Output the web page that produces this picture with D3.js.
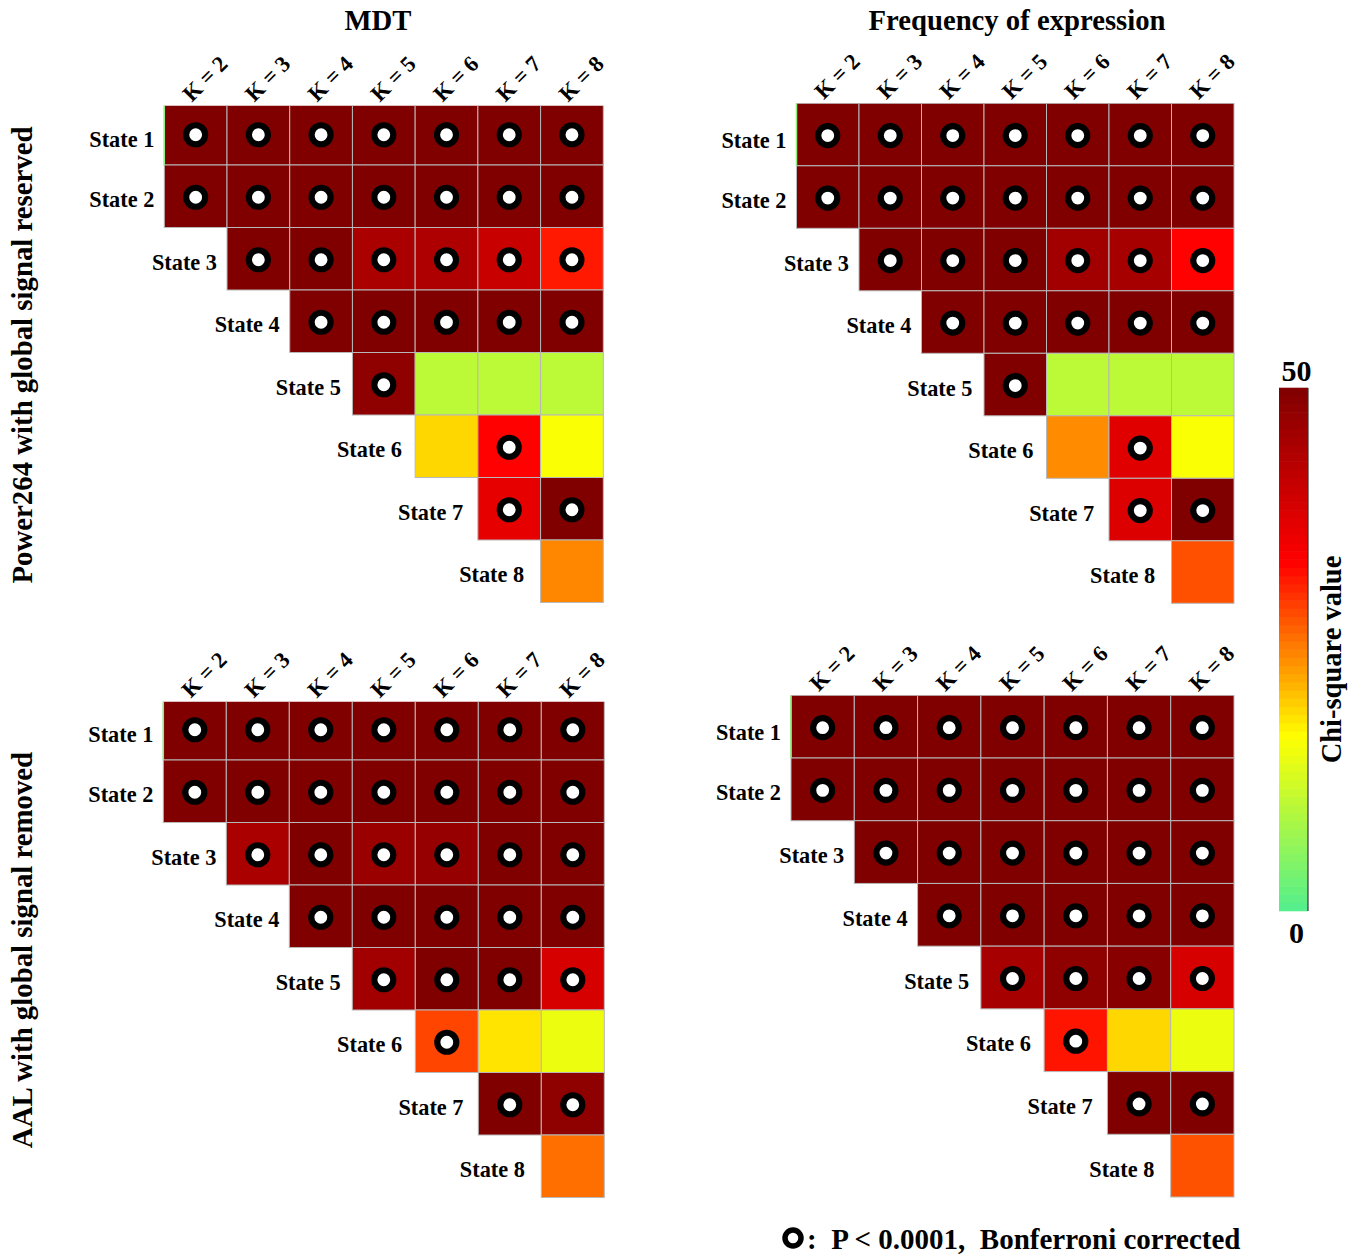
<!DOCTYPE html>
<html>
<head>
<meta charset="utf-8">
<script src="https://cdn.jsdelivr.net/npm/d3@7"></script>
<style>
  html, body { margin: 0; padding: 0; background: #fff; }
  svg text { font-family: "Times New Roman", "Liberation Serif", "DejaVu Serif", serif; font-weight: bold; fill: #000; }
</style>
</head>
<body>
<svg id="chart" width="1359" height="1255"></svg>
<script>
// Column and row categories
const kLabels = ["K = 2", "K = 3", "K = 4", "K = 5", "K = 6", "K = 7", "K = 8"];
const stateLabels = ["State 1", "State 2", "State 3", "State 4", "State 5", "State 6", "State 7", "State 8"];
const columnTitles = ["MDT", "Frequency of expression"];
const rowTitles = ["Power264 with global signal reserved", "AAL with global signal removed"];

// Chi-square values per state (rows) and K (columns); null = state absent for that K
const mdtPower264 = [
  [50, 50, 50, 50, 50, 50, 50],
  [50, 50, 50, 50, 50, 50, 50],
  [null, 50, 50, 44.5, 44, 40.5, 31.7],
  [null, null, 50, 50, 50, 50, 50],
  [null, null, null, 48, 10.2, 10.2, 10.2],
  [null, null, null, null, 19.3, 33.3, 16.2],
  [null, null, null, null, null, 36.6, 50],
  [null, null, null, null, null, null, 24.5]
];
const freqPower264 = [
  [50, 50, 50, 50, 50, 50, 50],
  [50, 50, 50, 50, 50, 50, 50],
  [null, 50, 50, 50, 45.6, 45, 33.3],
  [null, null, 50, 50, 50, 50, 50],
  [null, null, null, 50, 10.2, 10.2, 10.2],
  [null, null, null, null, 24.2, 37.3, 16.3],
  [null, null, null, null, null, 37.9, 50],
  [null, null, null, null, null, null, 28.1]
];
const mdtAAL = [
  [50, 50, 50, 50, 50, 50, 50],
  [50, 50, 50, 50, 50, 50, 50],
  [null, 44.5, 50, 46.4, 47, 50, 50],
  [null, null, 50, 50, 50, 50, 50],
  [null, null, null, 45.6, 50, 50, 38.6],
  [null, null, null, null, 28.8, 18.4, 14.8],
  [null, null, null, null, null, 50, 48],
  [null, null, null, null, null, null, 26.1]
];
const freqAAL = [
  [50, 50, 50, 50, 50, 50, 50],
  [50, 50, 50, 50, 50, 50, 50],
  [null, 50, 50, 50, 50, 50, 50],
  [null, null, 50, 50, 50, 50, 50],
  [null, null, null, 45, 48, 49, 38.6],
  [null, null, null, null, 32, 19.3, 14.8],
  [null, null, null, null, null, 50, 50],
  [null, null, null, null, null, null, 28]
];

// Significance flags (1 = P < 0.0001, Bonferroni corrected)
const sigPower264 = [
  [1, 1, 1, 1, 1, 1, 1],
  [1, 1, 1, 1, 1, 1, 1],
  [0, 1, 1, 1, 1, 1, 1],
  [0, 0, 1, 1, 1, 1, 1],
  [0, 0, 0, 1, 0, 0, 0],
  [0, 0, 0, 0, 0, 1, 0],
  [0, 0, 0, 0, 0, 1, 1],
  [0, 0, 0, 0, 0, 0, 0]
];
const sigAAL = [
  [1, 1, 1, 1, 1, 1, 1],
  [1, 1, 1, 1, 1, 1, 1],
  [0, 1, 1, 1, 1, 1, 1],
  [0, 0, 1, 1, 1, 1, 1],
  [0, 0, 0, 1, 1, 1, 1],
  [0, 0, 0, 0, 1, 0, 0],
  [0, 0, 0, 0, 0, 1, 1],
  [0, 0, 0, 0, 0, 0, 0]
];

// Colorbar range and tick labels
const colorDomain = [0, 50];
const colorTicks = ["0", "50"];

const color = d3.scaleLinear()
  .domain([0, 50 / 3, 100 / 3, 50])
  .range(["#52ef8e", "#ffff00", "#ff0000", "#800000"])
  .clamp(true);

const svg = d3.select("#chart");
svg.append("rect").attr("width", 1359).attr("height", 1255).attr("fill", "#fff");

const panels = [
  { values: mdtPower264, sig: sigPower264, x: [164.3, 603.3], y: [102.5, 602.5], clipTop: 105.7 },
  { values: freqPower264, sig: sigPower264, x: [796.5, 1234], y: [103.3, 603.3], clipTop: 103.3 },
  { values: mdtAAL, sig: sigAAL, x: [163.3, 604.3], y: [697.5, 1197.5], clipTop: 701.7 },
  { values: freqAAL, sig: sigAAL, x: [791, 1234], y: [695.3, 1197], clipTop: 695.3 }
];

const defs = svg.append("defs");

panels.forEach((p, pi) => {
  const xs = d3.scaleBand().domain(kLabels).range(p.x);
  const ys = d3.scaleBand().domain(stateLabels).range(p.y);
  const g = svg.append("g");

  defs.append("clipPath").attr("id", "clip" + pi)
    .append("rect")
    .attr("x", p.x[0] - 2).attr("y", p.clipTop)
    .attr("width", p.x[1] - p.x[0] + 4).attr("height", p.y[1] - p.clipTop + 2);

  const cells = [];
  p.values.forEach((row, ri) => row.forEach((v, ci) => {
    if (v !== null) cells.push({ state: stateLabels[ri], k: kLabels[ci], v, sig: p.sig[ri][ci] });
  }));

  const body = g.append("g").attr("clip-path", `url(#clip${pi})`);
  body.selectAll("rect.cell").data(cells).join("rect")
    .attr("class", "cell")
    .attr("x", d => xs(d.k)).attr("y", d => ys(d.state))
    .attr("width", xs.bandwidth()).attr("height", ys.bandwidth())
    .attr("fill", d => color(d.v))
    .attr("stroke", "#b8b8b8").attr("stroke-width", 1);

  // thin light-green edge on the first row's left side
  body.append("line")
    .attr("x1", xs(kLabels[0])).attr("x2", xs(kLabels[0]))
    .attr("y1", ys(stateLabels[0])).attr("y2", ys(stateLabels[0]) + ys.bandwidth())
    .attr("stroke", "#8cf07a").attr("stroke-width", 1.5);

  body.selectAll("circle.sig").data(cells.filter(d => d.sig)).join("circle")
    .attr("class", "sig")
    .attr("cx", d => xs(d.k) + xs.bandwidth() / 2)
    .attr("cy", d => ys(d.state) + ys.bandwidth() / 2 + 1)
    .attr("r", 9.5)
    .attr("fill", "#fff").attr("stroke", "#000").attr("stroke-width", 6.2);

  // rotated K labels above the columns
  g.selectAll("text.k").data(kLabels).join("text")
    .attr("class", "k")
    .attr("transform", d => `translate(${xs(d) + xs.bandwidth() / 2 - 4},${p.clipTop - 3}) rotate(-45)`)
    .attr("font-size", 22.5)
    .text(d => d);

  // State labels left of each row's first cell; lower rows sit a little further out
  g.selectAll("text.s").data(stateLabels).join("text")
    .attr("class", "s")
    .attr("x", (d, i) => xs(kLabels[Math.max(0, i - 1)]) - 10 - Math.max(0, i - 3) * 1.6)
    .attr("y", (d, i) => ys(d) + ys.bandwidth() / 2 + 11 + (i === 0 ? 2 : 0))
    .attr("text-anchor", "end")
    .attr("font-size", 22.3)
    .text(d => d);
});

// Column titles
svg.selectAll("text.ctitle").data(columnTitles).join("text")
  .attr("x", (d, i) => [378, 1017][i]).attr("y", 30)
  .attr("text-anchor", "middle").attr("font-size", 28.7)
  .text(d => d);

// Row titles
svg.selectAll("text.rtitle").data(rowTitles).join("text")
  .attr("transform", (d, i) => `translate(32,${[355, 950][i]}) rotate(-90)`)
  .attr("text-anchor", "middle").attr("font-size", 28.8)
  .text(d => d);

// Colorbar
const cbX = 1279, cbW = 29, cbTop = 388, cbBottom = 911;
const cbScale = d3.scaleLinear().domain(colorDomain).range([cbBottom, cbTop]);
const steps = d3.range(64).map(i => colorDomain[0] + (i + 0.5) * (colorDomain[1] - colorDomain[0]) / 64);
const stepH = (cbBottom - cbTop) / 64;
svg.append("g").selectAll("rect").data(steps).join("rect")
  .attr("x", cbX).attr("width", cbW)
  .attr("y", d => cbScale(d) - stepH / 2 - 0.3).attr("height", stepH + 0.6)
  .attr("fill", d => color(d));
svg.append("line")
  .attr("x1", cbX + cbW).attr("x2", cbX + cbW)
  .attr("y1", cbTop).attr("y2", cbBottom)
  .attr("stroke", "#333").attr("stroke-width", 1.2);
svg.selectAll("text.cbt").data(colorTicks).join("text")
  .attr("x", cbX + cbW / 2 + 3)
  .attr("y", (d, i) => i === 0 ? cbBottom + 32 : cbTop - 7)
  .attr("text-anchor", "middle").attr("font-size", 30)
  .text(d => d);
svg.append("text")
  .attr("transform", `translate(1341,${(cbTop + cbBottom) / 2 + 10}) rotate(-90)`)
  .attr("text-anchor", "middle").attr("font-size", 28.5)
  .text("Chi-square value");

// Significance legend
svg.append("circle").attr("cx", 793).attr("cy", 1238).attr("r", 8)
  .attr("fill", "#fff").attr("stroke", "#000").attr("stroke-width", 5.5);
svg.append("text").attr("x", 807).attr("y", 1249).attr("font-size", 29)
  .style("white-space", "pre")
  .text(":  P < 0.0001,  Bonferroni corrected");
</script>
</body>
</html>
